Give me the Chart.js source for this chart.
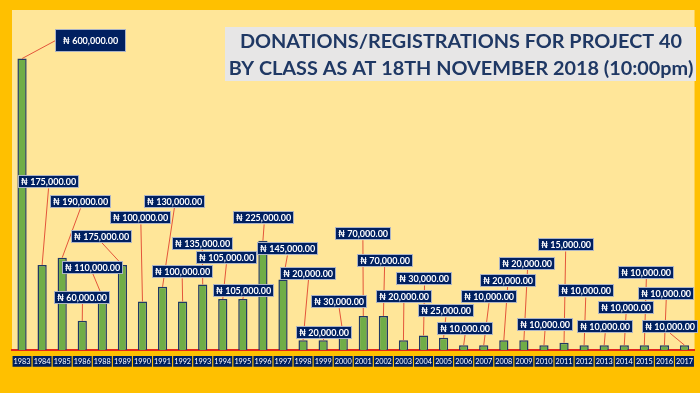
<!DOCTYPE html>
<html><head><meta charset="utf-8">
<script src="https://cdn.jsdelivr.net/npm/chart.js@4.4.0/dist/chart.umd.min.js"></script>
<style>html,body{margin:0;padding:0;background:#FFC000;overflow:hidden}</style>
</head><body>
<canvas id="c" width="700" height="393"></canvas>
<script>
// ---- data ----
const years = ['1983','1984','1985','1986','1988','1989','1990','1991','1992','1993','1994','1995','1996','1997','1998','1999','2000','2001','2002','2003','2004','2005','2006','2007','2008','2009','2010','2011','2012','2013','2014','2015','2016','2017'];
const donations = [600000,175000,190000,60000,110000,175000,100000,130000,100000,135000,105000,105000,225000,145000,20000,20000,30000,70000,70000,20000,30000,25000,10000,10000,20000,20000,10000,15000,10000,10000,10000,10000,10000,10000];
const titleLines = ['DONATIONS/REGISTRATIONS FOR PROJECT 40', 'BY CLASS AS AT 18TH NOVEMBER 2018 (10:00pm)'];
const currencySign = '\u20A6';
// data-label placement (category offset, value level of label centre)
const labelShift = [3.44,0.32,0.91,0.01,-0.47,-1.02,-0.08,0.59,-0.02,-0.02,0.18,0.02,0.06,0.22,0.27,0.03,-0.2,-0.02,0.06,0.02,0.05,0.11,0.07,0.26,0.19,0.18,0.05,0.08,0.08,0.05,0.09,0.1,0.09,-0.72];
const labelLevel = [637000,346000,305000,109000,170000,234000,272000,306000,161000,220000,190000,122500,272000,208000,158000,36000,99400,239400,184700,110600,146200,80700,44700,109700,144100,178500,52900,216200,121500,48000,88500,159600,116700,48000];
const bigLabels = ['1983'];

const fmt = v => currencySign + ' ' + v.toLocaleString('en-US',{minimumFractionDigits:2, maximumFractionDigits:2});

const bgPlugin = {
  id:'bg',
  beforeDraw(chart){
    const {ctx, chartArea:a} = chart;
    ctx.save();
    ctx.fillStyle = '#FFC000';
    ctx.fillRect(0,0,chart.width,chart.height);
    ctx.fillStyle = '#FFE699';
    ctx.fillRect(a.left, a.top, a.right-a.left, a.bottom-a.top);
    ctx.restore();
  }
};

const labelPlugin = {
  id:'dlabels',
  afterDatasetsDraw(chart){
    const ctx = chart.ctx, xs = chart.scales.x, ys = chart.scales.y;
    const meta = chart.getDatasetMeta(0);
    const catW = xs.getPixelForValue(1) - xs.getPixelForValue(0);
    ctx.save();
    ctx.font = 'bold 9px Lato, "DejaVu Sans", sans-serif';
    const boxes = donations.map((v,i)=>{
      const big = bigLabels.includes(years[i]);
      const txt = fmt(v);
      const tw = ctx.measureText(txt).width;
      const padX = big ? 8 : 3, h = big ? 23 : 13;
      const cx = meta.data[i].x + labelShift[i]*catW;
      const cy = ys.getPixelForValue(labelLevel[i]);
      return {txt, cx, cy, w: tw+2*padX, h, bx: meta.data[i].x, by: meta.data[i].y};
    });
    // leader lines
    ctx.strokeStyle = '#E4553A';
    ctx.lineWidth = 1;
    boxes.forEach(b=>{
      const l = b.cx - b.w/2, r = b.cx + b.w/2, bot = b.cy + b.h/2;
      let sx = b.cx, sy = bot;
      if (b.bx < l && b.by - bot < 20) { sx = l; sy = b.cy; }
      else if (b.bx > r && b.by - bot < 20) { sx = r; sy = b.cy; }
      ctx.beginPath(); ctx.moveTo(sx, sy); ctx.lineTo(b.bx, b.by); ctx.stroke();
    });
    // boxes
    boxes.forEach(b=>{
      const l = Math.round(b.cx - b.w/2), t = Math.round(b.cy - b.h/2);
      ctx.fillStyle = '#002060';
      ctx.fillRect(l, t, Math.round(b.w), b.h);
      ctx.strokeStyle = 'rgba(190,195,210,0.9)';
      ctx.lineWidth = 1;
      ctx.strokeRect(l+0.5, t+0.5, Math.round(b.w)-1, b.h-1);
      ctx.fillStyle = '#FFFFFF';
      ctx.textAlign = 'center'; ctx.textBaseline = 'middle';
      ctx.fillText(b.txt, l + Math.round(b.w)/2, t + b.h/2 + 0.5);
    });
    ctx.restore();
  }
};

const titlePlugin = {
  id:'ttl',
  afterDraw(chart){
    const ctx = chart.ctx;
    ctx.save();
    ctx.fillStyle = '#E7E6E6';
    ctx.fillRect(225, 27, 471, 54);
    ctx.fillStyle = '#1F3864';
    ctx.textAlign = 'center'; ctx.textBaseline = 'alphabetic';
    ctx.font = 'bold 20px Lato, sans-serif';
    const w2 = ctx.measureText(titleLines[1]).width;
    const size = 20 * 465 / w2;
    ctx.font = 'bold ' + size.toFixed(2) + 'px Lato, sans-serif';
    ctx.fillText(titleLines[0], 461, 48);
    ctx.fillText(titleLines[1], 461, 75);
    ctx.restore();
  }
};

new Chart(document.getElementById('c'), {
  type:'bar',
  data:{ labels: years, datasets:[{ data: donations, backgroundColor:'#70AD47', borderColor:'#203864', borderWidth:1.5, barPercentage:0.46, categoryPercentage:1 }]},
  options:{
    responsive:false, animation:false, devicePixelRatio:1,
    layout:{padding:{left:12,right:3,top:10,bottom:0}},
    plugins:{legend:{display:false}, tooltip:{enabled:false}, title:{display:false}},
    scales:{
      x:{
        z:1,
        grid:{display:false, drawTicks:false},
        border:{display:true, color:'#E3261B', width:2},
        ticks:{ color:'#FFFFFF', font:{family:'Lato', size:7.3}, padding:7, autoSkip:false, maxRotation:0,
          showLabelBackdrop:true, backdropColor:'#002060', backdropPadding:{top:1,bottom:1,left:1,right:1} },
        afterFit(s){ s.height = 43; }
      },
      y:{display:false, min:0, max:700000}
    }
  },
  plugins:[bgPlugin, labelPlugin, titlePlugin]
});
</script>
</body></html>
